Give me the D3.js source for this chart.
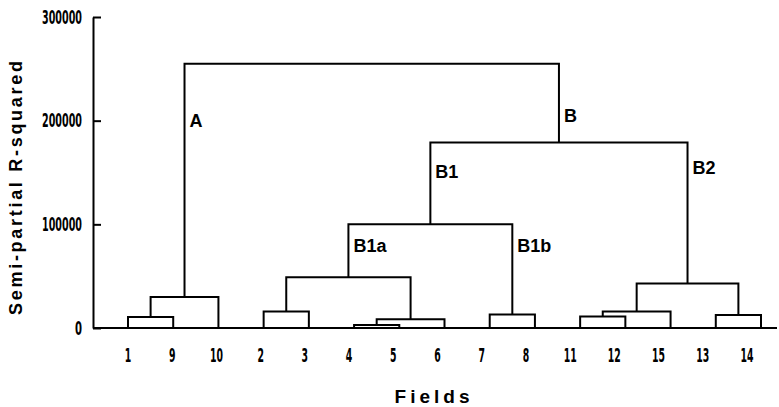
<!DOCTYPE html>
<html>
<head>
<meta charset="utf-8">
<script src="https://cdn.jsdelivr.net/npm/d3@7"></script>
<style>
  body { margin: 0; background: #fff; }
  svg { display: block; }
</style>
</head>
<body>
<svg id="chart" width="779" height="407"></svg>
<script>
// Leaves in dendrogram order
var fields = ["1", "9", "10", "2", "3", "4", "5", "6", "7", "8", "11", "12", "15", "13", "14"];

// Merges: left child, right child, semi-partial R-squared height
var mergeIds    = ["m19", "A", "m23", "m45", "m456", "B1a", "B1b", "B1", "m1112", "m111215", "m1314", "B2", "B", "root"];
var mergeLeft   = ["1", "m19", "2", "4", "m45", "m23", "7", "B1a", "11", "m1112", "13", "m111215", "B1", "A"];
var mergeRight  = ["9", "10", "3", "5", "6", "m456", "8", "B1b", "12", "15", "14", "m1314", "B2", "B"];
var mergeHeight = [10500, 30000, 16000, 3000, 8500, 49000, 13000, 100000, 11000, 16000, 12500, 43000, 179000, 255000];

// Cluster labels and the height where they sit on the branch
var clusterLabels = ["A", "B", "B1", "B2", "B1a", "B1b"];
var labelHeights  = [200000, 205000, 150500, 155000, 79500, 79500];

var yTicks = [0, 100000, 200000, 300000];

var svg = d3.select("#chart");
var fontNarrow = "'Liberation Sans Narrow', 'DejaVu Sans Condensed', sans-serif";
var fontBold = "'Liberation Sans', Arial, sans-serif";

var y = d3.scaleLinear()
          .domain([0, 300000])
          .range([328, 17]);

// leaf positions for the branches, and for the printed numbers
var xLeaf = d3.scalePoint()
              .domain(fields)
              .range([128, 761]);

var xLabel = d3.scalePoint()
               .domain(fields)
               .range([128, 747]);

// Node positions
var nodeX = {};
var nodeH = {};
fields.forEach(function(f) {
  nodeX[f] = xLeaf(f);
  nodeH[f] = 0;
});
for (var i = 0; i < mergeIds.length; i++) {
  var l = mergeLeft[i], r = mergeRight[i];
  nodeX[mergeIds[i]] = (nodeX[l] + nodeX[r]) / 2;
  nodeH[mergeIds[i]] = mergeHeight[i];
}

// Baseline
svg.append("line")
   .attr("x1", 93).attr("x2", 777)
   .attr("y1", y(0)).attr("y2", y(0))
   .style("stroke", "black")
   .style("stroke-width", 2);

// Y axis
var yAxis = svg.append("g")
   .attr("transform", "translate(93,0)")
   .call(d3.axisLeft(y)
           .tickValues(yTicks)
           .tickSizeInner(-8)
           .tickSizeOuter(0)
           .tickPadding(11)
           .tickFormat(d3.format("d")));

yAxis.select(".domain").style("stroke", "black").style("stroke-width", 2);
yAxis.selectAll(".tick line").style("stroke", "black").style("stroke-width", 2);
yAxis.selectAll(".tick text")
     .style("font-family", fontNarrow)
     .style("font-weight", "bold")
     .style("font-size", "20px")
     .attr("dy", "0.3em")
     .attr("textLength", function(d) { return d == 0 ? 7 : 40; })
     .attr("lengthAdjust", "spacingAndGlyphs")
     .attr("fill", "black");

// Branches
svg.append("g").selectAll("path.branch")
   .data(mergeIds)
   .enter().append("path")
   .attr("class", "branch")
   .attr("d", function(d, i) {
     var l = mergeLeft[i], r = mergeRight[i];
     return "M" + nodeX[l] + "," + y(nodeH[l]) +
            "V" + y(mergeHeight[i]) +
            "H" + nodeX[r] +
            "V" + y(nodeH[r]);
   })
   .style("fill", "none")
   .style("stroke", "black")
   .style("stroke-width", 2)
   .style("stroke-linejoin", "miter");

// Cluster labels
svg.append("g").selectAll("text.cluster")
   .data(clusterLabels)
   .enter().append("text")
   .attr("class", "cluster")
   .attr("x", function(d) { return nodeX[d] + 5; })
   .attr("y", function(d, i) { return y(labelHeights[i]); })
   .attr("dy", "0.36em")
   .text(function(d) { return d; })
   .style("font-family", fontBold)
   .style("font-weight", "bold")
   .style("font-size", "18px");

// Field numbers
svg.append("g").selectAll("text.field")
   .data(fields)
   .enter().append("text")
   .attr("class", "field")
   .attr("x", function(d) { return xLabel(d); })
   .attr("y", 362)
   .attr("text-anchor", "middle")
   .attr("textLength", function(d) { return d.length * 6.5; })
   .attr("lengthAdjust", "spacingAndGlyphs")
   .text(function(d) { return d; })
   .style("font-family", fontNarrow)
   .style("font-weight", "bold")
   .style("font-size", "20px");

// Axis titles
svg.append("text")
   .attr("x", 434)
   .attr("y", 403)
   .attr("text-anchor", "middle")
   .text("Fields")
   .style("font-family", fontBold)
   .style("font-weight", "bold")
   .style("font-size", "19px")
   .style("letter-spacing", "4px");

svg.append("text")
   .attr("transform", "translate(22,188) rotate(-90)")
   .attr("text-anchor", "middle")
   .attr("textLength", 254)
   .attr("lengthAdjust", "spacing")
   .text("Semi-partial R-squared")
   .style("font-family", fontBold)
   .style("font-weight", "bold")
   .style("font-size", "18px");
</script>
</body>
</html>
